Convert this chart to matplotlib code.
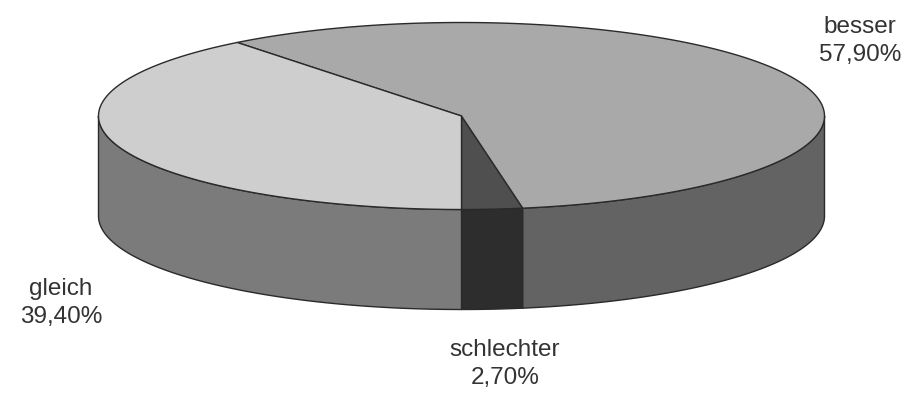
import numpy as np
import matplotlib
matplotlib.use("Agg")
import matplotlib.pyplot as plt
from matplotlib.patches import Polygon

# Survey result shares (percent)
labels = ["schlechter", "besser", "gleich"]
values = [2.7, 57.9, 39.4]
value_texts = ["2,70%", "57,90%", "39,40%"]

top_colors = ["#4f4f4f", "#a9a9a9", "#cecece"]
side_colors = ["#2d2d2d", "#636363", "#7b7b7b"]
edge_color = "#2a2a2a"

W, H = 916, 401
fig = plt.figure(figsize=(W / 100, H / 100), dpi=100)
ax = fig.add_axes([0, 0, 1, 1])
ax.set_xlim(0, W)
ax.set_ylim(H, 0)
ax.axis("off")

# Disc geometry in pixel space
cx, cy = 461.5, 116.0
a, b = 363.0, 93.5
depth = 100.0
start = -90.0


def pt(theta_deg, dz=0.0):
    t = np.radians(theta_deg)
    return cx + a * np.cos(t), cy - b * np.sin(t) + dz


def arc(t0, t1, dz=0.0, n=200):
    ts = np.linspace(t0, t1, n)
    return np.array([pt(t, dz) for t in ts])


# Angular extents of each slice, counterclockwise from the bottom
fracs = np.array(values) / np.sum(values)
bounds = start + 360.0 * np.concatenate([[0], np.cumsum(fracs)])

# Front walls (only the half facing the viewer, angles -180..0 mod 360)
for i in range(len(values)):
    t0, t1 = bounds[i], bounds[i + 1]
    for lo, hi in [(-180, 0), (180, 360)]:
        s, e = max(t0, lo), min(t1, hi)
        if e > s:
            top = arc(s, e)
            bot = arc(e, s, depth)
            poly = np.vstack([top, bot])
            ax.add_patch(Polygon(poly, closed=True, facecolor=side_colors[i],
                                 edgecolor=edge_color, linewidth=1.0,
                                 joinstyle="round"))

# Top wedges
for i in range(len(values)):
    t0, t1 = bounds[i], bounds[i + 1]
    poly = np.vstack([[cx, cy], arc(t0, t1)])
    ax.add_patch(Polygon(poly, closed=True, facecolor=top_colors[i],
                         edgecolor=edge_color, linewidth=1.0,
                         joinstyle="round"))

# Labels
txt = dict(fontsize=17.5, color="#333333", ha="center", va="center",
           family=["Liberation Sans", "DejaVu Sans"], linespacing=1.35)
label_pos = {"besser": (860, 41), "gleich": (61, 303), "schlechter": (505, 364)}
for lab, vt in zip(labels, value_texts):
    x, y = label_pos[lab]
    ax.text(x, y, f"{lab}\n{vt}", **txt)

fig.savefig("out.png", dpi=100, facecolor="white")
